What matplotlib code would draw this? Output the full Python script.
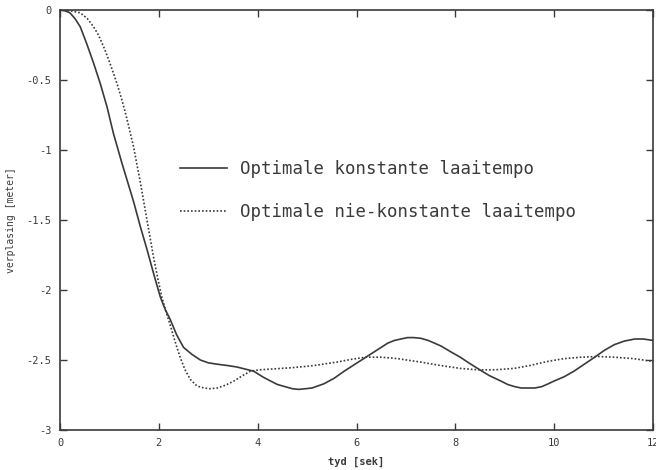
import numpy as np
import matplotlib
matplotlib.use('Agg')
import matplotlib.pyplot as plt

# Optimale konstante laaitempo (solid)
t_const = [0, 0.1, 0.2, 0.3, 0.41, 0.54, 0.68, 0.81, 0.95, 1.08, 1.25, 1.37, 1.49, 1.62,
           1.76, 1.9, 2.03, 2.13, 2.23, 2.36, 2.5, 2.67, 2.84, 3.0, 3.18, 3.4, 3.58, 3.75,
           3.92, 4.1, 4.26, 4.4, 4.55, 4.7, 4.83, 4.97, 5.1, 5.22, 5.34, 5.55, 5.75, 5.97,
           6.19, 6.41, 6.63, 6.77, 6.9, 7.03, 7.16, 7.3, 7.45, 7.58, 7.71, 7.9, 8.1, 8.27,
           8.45, 8.68, 8.92, 9.06, 9.2, 9.33, 9.47, 9.61, 9.75, 9.88, 10.0, 10.2, 10.4,
           10.61, 10.82, 11.02, 11.22, 11.42, 11.63, 11.8, 12.0]
y_const = [0, -0.005, -0.02, -0.06, -0.12, -0.24, -0.38, -0.52, -0.69, -0.88, -1.09, -1.23,
           -1.37, -1.54, -1.71, -1.89, -2.05, -2.14, -2.21, -2.32, -2.41, -2.46, -2.50,
           -2.52, -2.53, -2.54, -2.55, -2.565, -2.58, -2.62, -2.65, -2.675, -2.69, -2.705,
           -2.71, -2.705, -2.70, -2.685, -2.67, -2.63, -2.58, -2.53, -2.48, -2.43, -2.38,
           -2.36, -2.35, -2.34, -2.34, -2.345, -2.36, -2.38, -2.40, -2.44, -2.48, -2.52,
           -2.56, -2.61, -2.65, -2.675, -2.69, -2.70, -2.70, -2.70, -2.69, -2.67, -2.65,
           -2.62, -2.58, -2.53, -2.48, -2.43, -2.39, -2.365, -2.35, -2.35, -2.36]

# Optimale nie-konstante laaitempo (dotted)
t_var = [0, 0.2, 0.41, 0.55, 0.68, 0.78, 0.88, 0.98, 1.08, 1.17, 1.25, 1.32, 1.39, 1.49,
         1.62, 1.75, 1.89, 1.98, 2.06, 2.15, 2.23, 2.33, 2.43, 2.53, 2.64, 2.77, 2.91,
         3.04, 3.18, 3.35, 3.52, 3.68, 3.85, 4.05, 4.26, 4.7, 5.13, 5.6, 5.9, 6.19, 6.5,
         6.83, 7.3, 7.71, 8.1, 8.45, 8.8, 9.19, 9.5, 9.87, 10.2, 10.55, 10.9, 11.22, 11.6,
         12.0]
y_var = [0, -0.005, -0.02, -0.06, -0.12, -0.18, -0.26, -0.35, -0.45, -0.545, -0.64, -0.73,
         -0.83, -0.98, -1.22, -1.48, -1.76, -1.92, -2.05, -2.16, -2.25, -2.37, -2.48,
         -2.57, -2.64, -2.685, -2.70, -2.705, -2.70, -2.68, -2.65, -2.615, -2.58, -2.57,
         -2.565, -2.555, -2.54, -2.515, -2.495, -2.48, -2.48, -2.49, -2.515, -2.54, -2.56,
         -2.57, -2.57, -2.56, -2.54, -2.51, -2.49, -2.48, -2.475, -2.48, -2.49, -2.51]

labels = ['Optimale konstante laaitempo', 'Optimale nie-konstante laaitempo']
x_ticks = [0, 2, 4, 6, 8, 10, 12]
y_ticks = [0, -0.5, -1, -1.5, -2, -2.5, -3]

ink = '#3a3a3a'
mono = 'DejaVu Sans Mono'

fig = plt.figure(figsize=(6.56, 4.70), dpi=100)
ax = fig.add_axes([60 / 656, 1 - 430 / 470, 593 / 656, 420 / 470])

ax.plot(t_const, y_const, color=ink, lw=1.2, ls='-', label=labels[0])
ax.plot(t_var, y_var, color=ink, lw=1.2, ls=(0, (1, 1.2)), label=labels[1])

ax.set_xlim(0, 12)
ax.set_ylim(-3, 0)
ax.set_xticks(x_ticks)
ax.set_xticklabels([str(v) for v in x_ticks])
ax.set_yticks(y_ticks)
ax.set_yticklabels(['0', '-0.5', '-1', '-1.5', '-2', '-2.5', '-3'])
ax.tick_params(direction='in', length=5, width=1, color=ink, labelcolor=ink,
               labelsize=7.5, top=True, right=True, pad=6)
for lab in ax.get_xticklabels() + ax.get_yticklabels():
    lab.set_family(mono)
for s in ax.spines.values():
    s.set_color(ink)
    s.set_linewidth(1.2)

ax.set_xlabel('tyd [sek]', fontsize=7.5, family=mono, color=ink, fontweight='bold', va='center')
ax.xaxis.set_label_coords(0.5, -(462 - 430) / 420)
ax.set_ylabel('verplasing [meter]', fontsize=7, family=mono, color=ink, va='center')
ax.yaxis.set_label_coords(-(60 - 11) / 593, 0.5)

leg = ax.legend(loc='upper left', bbox_to_anchor=((180 - 60) / 593, (430 - 160) / 420),
                frameon=False, borderpad=0, borderaxespad=0, handlelength=2.7,
                handletextpad=0.75, labelspacing=1.45,
                prop={'family': mono, 'size': 12.5})
for txt in leg.get_texts():
    txt.set_color(ink)

fig.savefig('out.png', dpi=100)
